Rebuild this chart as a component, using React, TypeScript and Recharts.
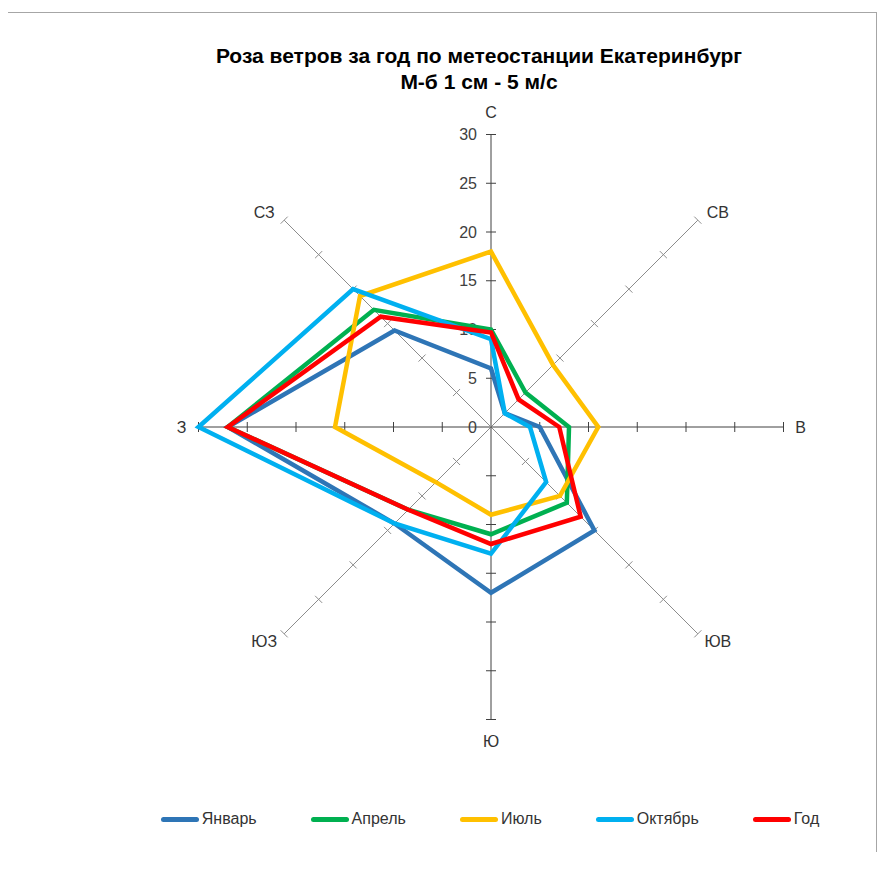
import { Legend, PolarAngleAxis, PolarRadiusAxis, Radar, RadarChart } from "recharts";

// направления по часовой стрелке от севера
const DIRECTIONS = ["С", "СВ", "В", "ЮВ", "Ю", "ЮЗ", "З", "СЗ"];
const RADIUS_TICKS = [0, 5, 10, 15, 20, 25, 30];

const JAN = [6, 2, 5, 15, 17, 14, 27, 14];
const APR = [10, 5, 8, 11, 11, 12, 27, 17];
const JUL = [18, 9, 11, 10, 9, 8, 16, 19];
const OCT = [9, 2, 4, 8, 13, 14, 30, 20];
const YEAR = [9.7, 4, 7, 13, 12, 12, 27, 16];

const SERIES = [
  { key: "jan", name: "Январь", color: "#2E75B6", values: JAN },
  { key: "apr", name: "Апрель", color: "#00B050", values: APR },
  { key: "jul", name: "Июль", color: "#FFC000", values: JUL },
  { key: "oct", name: "Октябрь", color: "#00B0F0", values: OCT },
  { key: "year", name: "Год", color: "#FF0000", values: YEAR },
];

const data = DIRECTIONS.map((dir, i) => {
  const row: Record<string, string | number> = { dir };
  SERIES.forEach((s) => (row[s.key] = s.values[i]));
  return row;
});

const W = 885;
const H = 870;
const CX = 491;
const CY = 427;
const R = 292.5;
const FONT = "'Liberation Sans', Arial, sans-serif";
const DARK = "#404040";
const GREY = "#8c8c8c";
const FRAME = "#a6a6a6";

const isDiag = (deg: number) => Math.round(deg) % 90 !== 0;

function DirTick(props: any) {
  const { payload } = props;
  const deg = payload.coordinate;
  const a = (deg * Math.PI) / 180;
  const cos = Math.cos(a);
  const sin = Math.sin(a);
  const ex = CX + R * cos;
  const ey = CY - R * sin;
  const diag = isDiag(deg);
  const lx = ex + (Math.abs(cos) > 0.1 ? Math.sign(cos) * (diag ? 20 : 17) : 0);
  const ly = ey - (Math.abs(sin) > 0.1 ? Math.sign(sin) * (diag ? 8 : 22) : 0);
  return (
    <g>
      <line x1={CX} y1={CY} x2={ex} y2={ey} stroke={diag ? GREY : DARK} strokeWidth={1} />
      <text
        x={lx}
        y={ly}
        textAnchor="middle"
        dominantBaseline="central"
        fontSize={16}
        fontFamily={FONT}
        fill="#333"
      >
        {payload.value}
      </text>
    </g>
  );
}

// подписи на оси С и засечки на всех восьми лучах
function ValueTick(props: any) {
  const { payload } = props;
  const r = payload.coordinate;
  return (
    <g>
      {r > 0 &&
        DIRECTIONS.map((_, i) => {
          const deg = 90 - i * 45;
          const a = (deg * Math.PI) / 180;
          const px = CX + r * Math.cos(a);
          const py = CY - r * Math.sin(a);
          const nx = Math.sin(a) * 5;
          const ny = Math.cos(a) * 5;
          return (
            <line
              key={i}
              x1={px - nx}
              y1={py - ny}
              x2={px + nx}
              y2={py + ny}
              stroke={isDiag(deg) ? GREY : DARK}
              strokeWidth={1}
            />
          );
        })}
      <text
        x={CX - 14}
        y={CY - r}
        textAnchor="end"
        dominantBaseline="central"
        fontSize={16}
        fontFamily={FONT}
        fill="#404040"
      >
        {payload.value}
      </text>
    </g>
  );
}

function LegendBox() {
  return (
    <div
      style={{
        display: "flex",
        justifyContent: "center",
        gap: 54,
        fontFamily: FONT,
        fontSize: 16,
        color: "#333",
      }}
    >
      {SERIES.map((s) => (
        <div key={s.key} style={{ display: "flex", alignItems: "center" }}>
          <span
            style={{
              display: "inline-block",
              width: 38,
              height: 5,
              borderRadius: 3,
              background: s.color,
              marginRight: 3,
            }}
          />
          {s.name}
        </div>
      ))}
    </div>
  );
}

export default function App() {
  return (
    <div
      style={{
        position: "relative",
        width: W,
        height: H - 10,
        margin: -8,
        background: "#fff",
        overflow: "hidden",
      }}
    >
      <div style={{ position: "absolute", left: 0, top: 12, width: 880, height: 1, background: FRAME }} />
      <div style={{ position: "absolute", left: 876, top: 12, width: 1, height: 850, background: FRAME }} />
      <div
        style={{
          position: "absolute",
          left: 0,
          top: 43,
          width: 958,
          textAlign: "center",
          fontFamily: FONT,
          fontWeight: "bold",
          fontSize: 21,
          lineHeight: "26px",
          color: "#000",
        }}
      >
        Роза ветров за год по метеостанции Екатеринбург
        <br />
        М-б 1 см - 5 м/с
      </div>
      <div style={{ position: "absolute", left: 0, top: 0 }}>
        <RadarChart
          width={W}
          height={H - 20}
          data={data}
          cx={CX}
          cy={CY}
          outerRadius={R}
          margin={{ top: 0, right: 0, bottom: 0, left: 0 }}
        >
          <PolarAngleAxis
            dataKey="dir"
            axisLine={false}
            tickLine={false}
            tick={(p: any) => <DirTick {...p} />}
            zIndex={-100}
          />
          <PolarRadiusAxis
            angle={90}
            domain={[0, 30]}
            ticks={RADIUS_TICKS}
            axisLine={false}
            tick={(p: any) => <ValueTick {...p} />}
            zIndex={-100}
          />
          {SERIES.map((s) => (
            <Radar
              key={s.key}
              dataKey={s.key}
              name={s.name}
              stroke={s.color}
              strokeWidth={4.5}
              strokeLinejoin="miter"
              fill="none"
              fillOpacity={0}
              dot={false}
              isAnimationActive={false}
            />
          ))}
          <Legend
            content={() => <LegendBox />}
            wrapperStyle={{ position: "absolute", top: 810, left: 0, width: 980 }}
          />
        </RadarChart>
      </div>
    </div>
  );
}
